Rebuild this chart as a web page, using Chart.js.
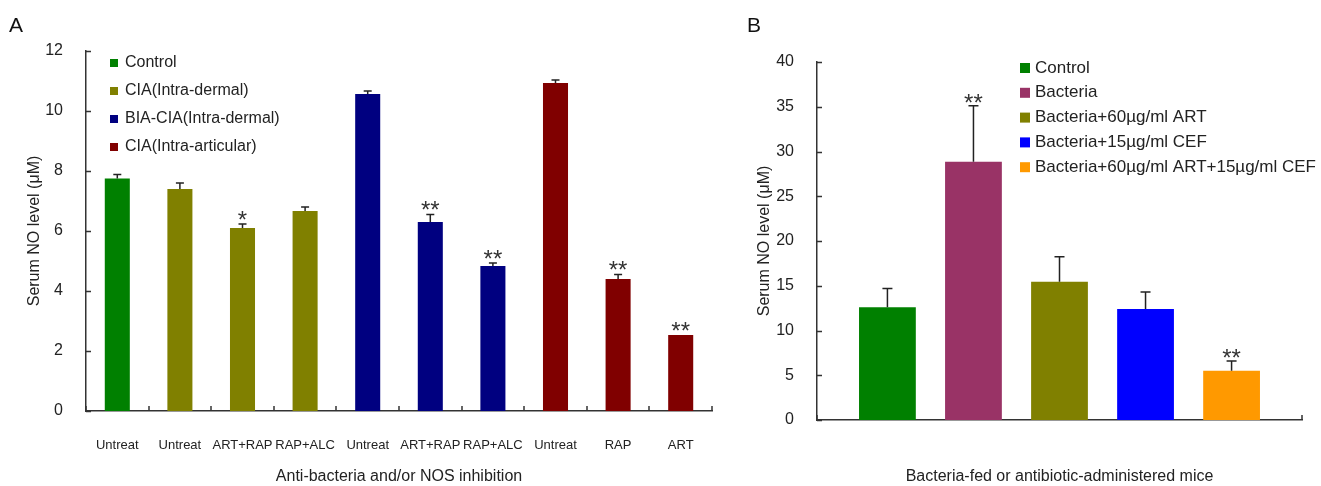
<!DOCTYPE html>
<html>
<head>
<meta charset="utf-8">
<script src="https://cdn.jsdelivr.net/npm/chart.js@4/dist/chart.umd.min.js"></script>
<style>
  body { margin: 0; background: #fff; }
  #wrap { position: relative; width: 1321px; height: 486px; font-family: "Liberation Sans", Arial, sans-serif; }
  .panel { position: absolute; top: 14px; font-size: 21px; line-height: 1; color: #111; }
  canvas { position: absolute; top: 0; }
</style>
</head>
<body>
<div id="wrap">
  <canvas id="chartA" width="730" height="486" style="left:0"></canvas>
  <canvas id="chartB" width="591" height="486" style="left:730px"></canvas>
  <div class="panel" style="left:9px">A</div>
  <div class="panel" style="left:747px">B</div>
</div>
<script>
// Panel A data
const catsA = ['Untreat', 'Untreat', 'ART+RAP', 'RAP+ALC', 'Untreat', 'ART+RAP', 'RAP+ALC', 'Untreat', 'RAP', 'ART'];
const groupsA = ['Control', 'CIA(Intra-dermal)', 'BIA-CIA(Intra-dermal)', 'CIA(Intra-articular)'];
const controlA = [7.75, null, null, null, null, null, null, null, null, null];
const ciaDermalA = [null, 7.4, 6.1, 6.67, null, null, null, null, null, null];
const biaDermalA = [null, null, null, null, 10.57, 6.3, 4.83, null, null, null];
const ciaArticularA = [null, null, null, null, null, null, null, 10.93, 4.4, 2.53];
const errA = [0.13, 0.2, 0.13, 0.13, 0.1, 0.25, 0.1, 0.1, 0.15, 0];
const starsA = ['', '', '*', '', '', '**', '**', '', '**', '**'];
const ticksA = [0, 2, 4, 6, 8, 10, 12];

// Panel B data
const groupsB = ['Control', 'Bacteria', 'Bacteria+60µg/ml ART', 'Bacteria+15µg/ml CEF', 'Bacteria+60µg/ml ART+15µg/ml CEF'];
const valuesB = [12.6, 28.85, 15.45, 12.4, 5.5];
const errB = [2.1, 6.25, 2.8, 1.9, 1.1];
const starsB = ['', '**', '', '', '**'];
const ticksB = [0, 5, 10, 15, 20, 25, 30, 35, 40];

const colorsA = ['#008000', '#808000', '#000080', '#800000'];
const colorsB = ['#008000', '#993366', '#808000', '#0000ff', '#ff9900'];

const FONT = '"Liberation Sans", Arial, sans-serif';
Chart.defaults.font.family = FONT;
Chart.defaults.color = '#222';

// error bars + significance stars
const errorBars = {
  id: 'errorBars',
  afterDatasetsDraw(chart, args, o) {
    const ctx = chart.ctx, y = chart.scales.y;
    ctx.save();
    ctx.strokeStyle = '#222';
    ctx.lineWidth = 1.5;
    chart.data.datasets.forEach((ds, di) => {
      chart.getDatasetMeta(di).data.forEach((bar, i) => {
        const v = ds.data[i];
        if (v == null) return;
        const e = o.err(di, i);
        let top = bar.y;
        if (e > 0) {
          top = y.getPixelForValue(v + e);
          ctx.beginPath();
          ctx.moveTo(bar.x, bar.y);
          ctx.lineTo(bar.x, top);
          ctx.moveTo(bar.x - o.cap, top);
          ctx.lineTo(bar.x + o.cap, top);
          ctx.stroke();
        }
        const s = o.star(di, i);
        if (s) {
          ctx.fillStyle = '#333';
          ctx.font = '24px ' + FONT;
          ctx.textAlign = 'center';
          ctx.textBaseline = 'alphabetic';
          ctx.fillText(s, bar.x, top - o.gap + 0.58 * 24);
        }
      });
    });
    ctx.restore();
  }
};

// small inward tick marks like the original figure
const innerTicks = {
  id: 'innerTicks',
  afterDraw(chart) {
    const {ctx, chartArea: a, scales: {x, y}} = chart;
    ctx.save();
    ctx.strokeStyle = '#333';
    ctx.lineWidth = 1.5;
    ctx.beginPath();
    y.ticks.forEach((t, i) => {
      const py = Math.round(y.getPixelForTick(i)) + 0.5;
      ctx.moveTo(a.left, py);
      ctx.lineTo(a.left + 5, py);
    });
    for (let i = 0; i <= chart.data.labels.length; i++) {
      const px = Math.round(x.getPixelForValue(i - 0.5));
      ctx.moveTo(px, a.bottom);
      ctx.lineTo(px, a.bottom - 5);
    }
    ctx.stroke();
    ctx.restore();
  }
};

// legend drawn inside the plot area
const boxLegend = {
  id: 'boxLegend',
  afterDraw(chart, args, o) {
    const ctx = chart.ctx;
    ctx.save();
    ctx.font = o.size + 'px ' + FONT;
    ctx.textBaseline = 'middle';
    ctx.textAlign = 'left';
    chart.data.datasets.forEach((ds, i) => {
      const cy = o.y + i * o.step;
      ctx.fillStyle = ds.backgroundColor;
      ctx.fillRect(o.x, cy - o.box / 2, o.box, o.box);
      ctx.fillStyle = '#222';
      ctx.fillText(ds.label, o.x + o.textGap, cy);
    });
    ctx.restore();
  }
};

function yAxis(max, step, ticks, w) {
  return {
    min: 0, max: max,
    afterFit: s => { s.width = w; },
    afterBuildTicks: s => { s.ticks = ticks.map(v => ({value: v})); },
    grid: {display: false},
    border: {display: true, color: '#333', width: 1.5},
    ticks: {stepSize: step, padding: 15, font: {size: 16}, color: '#222'},
    title: {display: true, text: 'Serum NO level (μM)', font: {size: 16}, color: '#222', padding: {top: 25, bottom: 0}}
  };
}

const dsA = [controlA, ciaDermalA, biaDermalA, ciaArticularA].map((d, i) => ({
  label: groupsA[i], data: d, backgroundColor: colorsA[i], borderWidth: 0,
  grouped: false, categoryPercentage: 1, barPercentage: 0.4
}));

new Chart(document.getElementById('chartA'), {
  type: 'bar',
  data: {labels: catsA, datasets: dsA},
  plugins: [errorBars, innerTicks, boxLegend],
  options: {
    responsive: false,
    animation: false,
    layout: {padding: {left: 0, top: 51, right: 18, bottom: 0}},
    scales: {
      x: {
        afterFit: s => { s.height = 75; },
        grid: {display: false},
        border: {display: true, color: '#333', width: 1.5},
        ticks: {padding: 19, font: {size: 13}, color: '#222', maxRotation: 0, autoSkip: false},
        title: {display: true, text: 'Anti-bacteria and/or NOS inhibition', font: {size: 16}, color: '#222', padding: {top: 0, bottom: 0}}
      },
      y: yAxis(12, 2, ticksA, 86)
    },
    plugins: {
      legend: {display: false},
      tooltip: {enabled: false},
      errorBars: {err: (di, i) => errA[i], star: (di, i) => starsA[i], cap: 4, gap: 10},
      boxLegend: {x: 110, y: 63, step: 28, box: 8, textGap: 15, size: 16}
    }
  }
});

const dsB = valuesB.map((v, i) => ({
  label: groupsB[i], data: [v], backgroundColor: colorsB[i], borderWidth: 0,
  categoryPercentage: 0.887, barPercentage: 0.66
}));

new Chart(document.getElementById('chartB'), {
  type: 'bar',
  data: {labels: [''], datasets: dsB},
  plugins: [errorBars, innerTicks, boxLegend],
  options: {
    responsive: false,
    animation: false,
    layout: {padding: {left: 0, top: 62, right: 19, bottom: 0}},
    scales: {
      x: {
        afterFit: s => { s.height = 66; },
        grid: {display: false},
        border: {display: true, color: '#333', width: 1.5},
        ticks: {display: false},
        title: {display: true, text: 'Bacteria-fed or antibiotic-administered mice', font: {size: 16}, color: '#222', padding: {top: 0, bottom: 0}}
      },
      y: yAxis(40, 5, ticksB, 87)
    },
    plugins: {
      legend: {display: false},
      tooltip: {enabled: false},
      errorBars: {err: (di, i) => errB[di], star: (di, i) => starsB[di], cap: 5, gap: 9},
      boxLegend: {x: 290, y: 68, step: 24.8, box: 10, textGap: 15, size: 17}
    }
  }
});
</script>
</body>
</html>
